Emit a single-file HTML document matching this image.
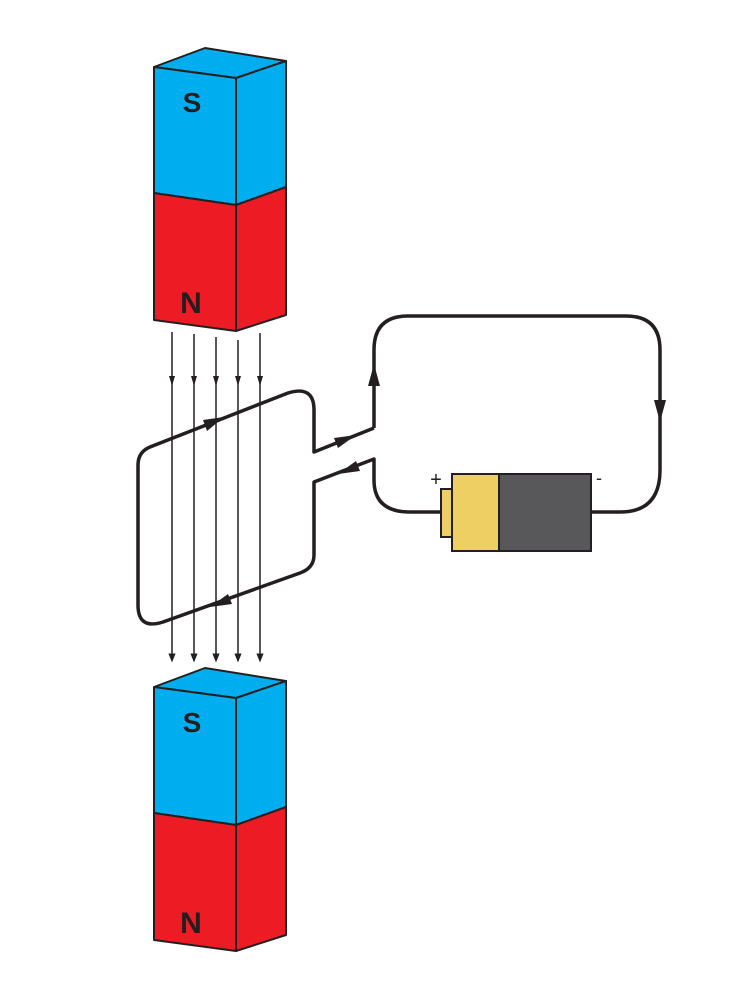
<!DOCTYPE html>
<html><head><style>html,body{margin:0;padding:0;background:#fff;width:750px;height:1000px;overflow:hidden}</style></head>
<body>
<svg width="750" height="1000" viewBox="0 0 750 1000" xmlns="http://www.w3.org/2000/svg">
<defs>
<marker id="a" viewBox="0 0 10 10" refX="5" refY="5" markerWidth="6" markerHeight="6" orient="auto"><path d="M0,1 L10,5 L0,9 z" fill="#231f20"/></marker>
<g id="mag" stroke="#231f20" stroke-width="2" stroke-linejoin="round">
<polygon points="154,67 205,48 286,61 236,78" fill="#00aeef"/>
<polygon points="154,67 236,78 236,205 154,193" fill="#00aeef"/>
<polygon points="236,78 286,61 286,187 236,205" fill="#00aeef"/>
<polygon points="154,193 236,205 236,331 154,320" fill="#ed1c24"/>
<polygon points="236,205 286,187 286,315 236,331" fill="#ed1c24"/>
<text x="192" y="112" font-family="Liberation Sans, sans-serif" font-weight="bold" font-size="28" fill="#231f20" stroke="none" text-anchor="middle">S</text>
<text x="191" y="313" font-family="Liberation Sans, sans-serif" font-weight="bold" font-size="30" fill="#231f20" stroke="none" text-anchor="middle">N</text>
</g>
</defs>
<use href="#mag"/>
<use href="#mag" y="620"/>
<g fill="none" stroke="#231f20" stroke-width="3.5" stroke-linejoin="round">
<path d="M374,428 L374,350 Q374,316 408,316 L626,316 Q660,316 660,350 L660,470 Q660,512 620,512 L591,512"/>
<path d="M441,512 L410,512 Q374,512 374,480 L374,459 L314,482 L314,555 Q314,568 300,573 L163,622 Q138,630 138,605 L138,465 Q138,452 150,447 L288,393 Q314,385 314,410 L314,452 L374,428"/>
</g>
<g fill="#231f20">
<polygon points="374,364 368,386 380,386"/>
<polygon points="660,422 654,400 666,400"/>
<polygon points="356,435 334,438 338,448"/>
<polygon points="338,474 356,461 360,471"/>
<polygon points="224,417 203,420 207,431"/>
<polygon points="210,607 228,594 232,604"/>
</g>
<g stroke="#231f20" stroke-width="1.5" marker-end="url(#a)">
<line x1="172" y1="332" x2="172" y2="658"/>
<line x1="194" y1="334" x2="194" y2="658"/>
<line x1="216" y1="337" x2="216" y2="658"/>
<line x1="238" y1="340" x2="238" y2="658"/>
<line x1="260" y1="333" x2="260" y2="658"/>
</g>
<g fill="#231f20"><polygon points="172,386 169,376 175,376"/><polygon points="194,386 191,376 197,376"/><polygon points="216,386 213,376 219,376"/><polygon points="238,386 235,376 241,376"/><polygon points="260,386 257,376 263,376"/></g>
<g stroke="#231f20" stroke-width="2">
<rect x="441" y="489" width="11" height="48" fill="#eecf63"/>
<rect x="452" y="474" width="47" height="77" fill="#eecf63"/>
<rect x="499" y="474" width="92" height="77" fill="#58585a"/>
</g>
<text x="436" y="486" font-family="Liberation Sans, sans-serif" font-size="20" fill="#231f20" text-anchor="middle">+</text>
<text x="599" y="484" font-family="Liberation Sans, sans-serif" font-size="18" fill="#231f20" text-anchor="middle">-</text>
</svg>
</body></html>
